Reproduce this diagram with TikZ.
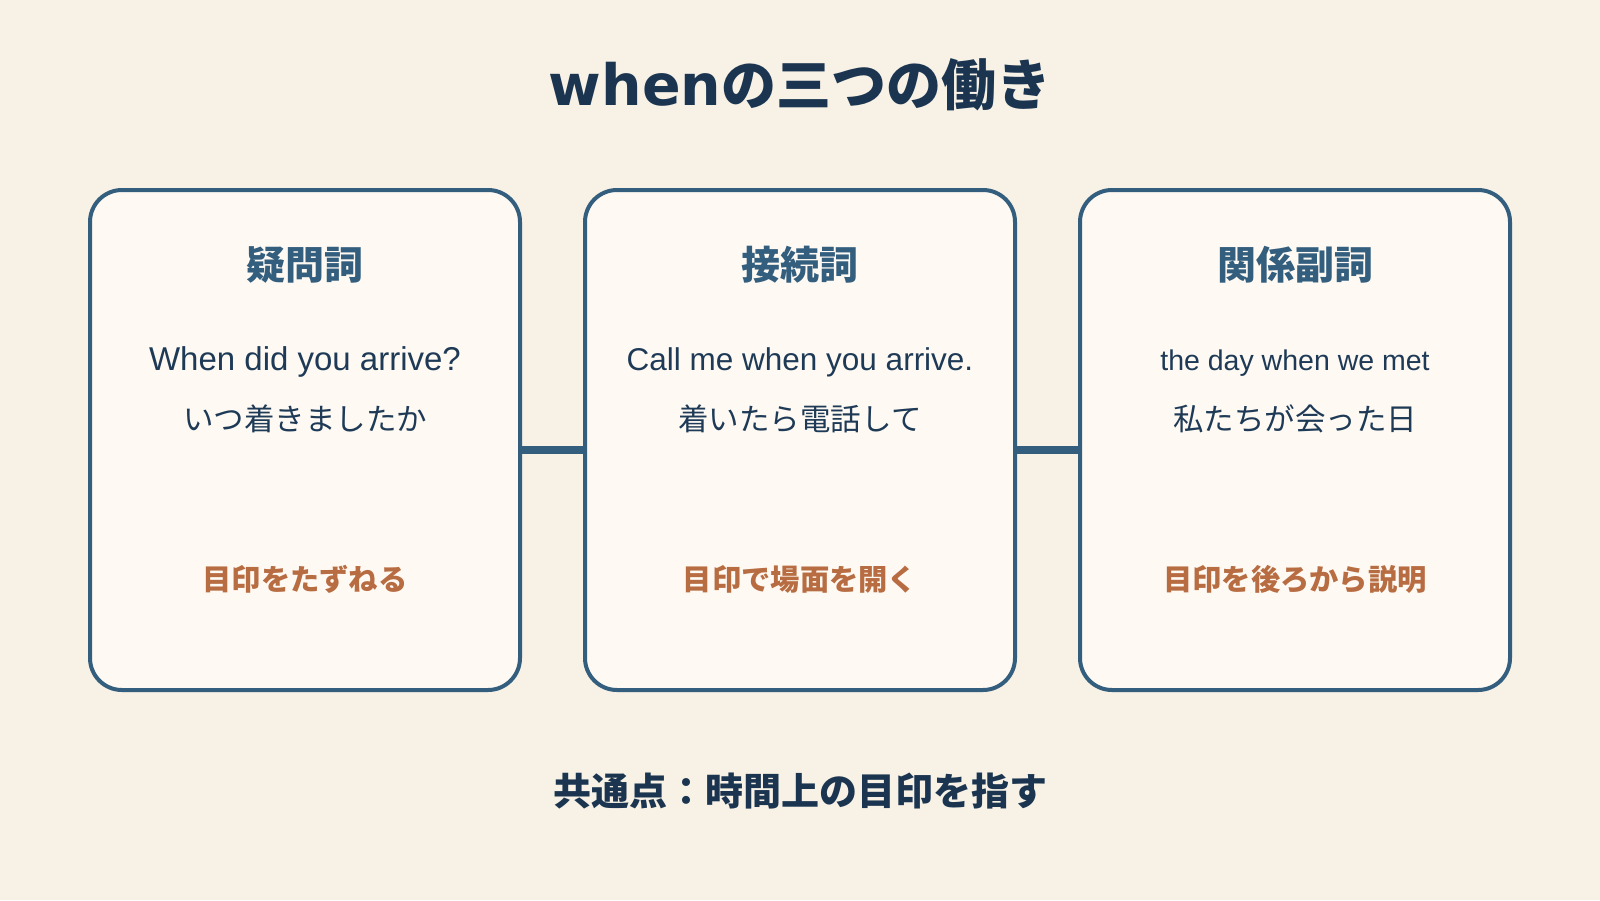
\documentclass[tikz,border=0pt]{standalone}
\usepackage{fontspec}
\setmainfont{Liberation Sans}
\newfontfamily\jp{Noto Sans CJK JP}
\newfontfamily\dv{DejaVu Sans}
\definecolor{bgc}{HTML}{F7F1E6}
\definecolor{cardc}{HTML}{FEFAF3}
\definecolor{borderc}{HTML}{335E7E}
\definecolor{textc}{HTML}{1E3A56}
\definecolor{titlec}{HTML}{1B3550}
\definecolor{orangec}{HTML}{B86C42}
\tikzset{
  card/.style={draw=borderc, line width=4pt, fill=cardc, rounded corners=32pt,
    minimum width=430pt, minimum height=500pt, inner sep=0pt},
  conn/.style={draw=borderc, line width=8pt},
  head/.style={anchor=base, text=borderc, font=\jp\bfseries\fontsize{39}{44}\selectfont, inner sep=0pt},
  eng/.style={anchor=base, text=textc, inner sep=0pt},
  jpline/.style={anchor=base, text=textc, font=\jp\fontsize{30.5}{36}\selectfont, inner sep=0pt},
  note/.style={anchor=base, text=orangec, font=\jp\bfseries\fontsize{29.3}{34}\selectfont, inner sep=0pt},
}
\begin{document}
\begin{tikzpicture}[x=1pt,y=-1pt]
\fill[bgc] (0,0) rectangle (1600,900);
\useasboundingbox (0,0) rectangle (1600,900);

\node[anchor=base, text=titlec, inner sep=0pt] (title) at (800,105)
  {{\dv\bfseries\fontsize{57}{60}\selectfont when}{\jp\bfseries\fontsize{55}{60}\selectfont の三つの働き}};

\node[card] (c1) at (305,440) {};
\node[card] (c2) at (800,440) {};
\node[card] (c3) at (1295,440) {};

\draw[conn] ([yshift=-10pt]c1.east) -- ([yshift=-10pt]c2.west);
\draw[conn] ([yshift=-10pt]c2.east) -- ([yshift=-10pt]c3.west);

\node[head] (h1) at (305,279) {疑問詞};
\node[head] (h2) at (800,279) {接続詞};
\node[head] (h3) at (1295,279) {関係副詞};

\node[eng, font=\fontsize{33}{38}\selectfont] (e1) at (305,370) {When did you arrive?};
\node[eng, font=\fontsize{31.5}{38}\selectfont] (e2) at (800,370) {Call me when you arrive.};
\node[eng, font=\fontsize{28.5}{34}\selectfont] (e3) at (1295,370) {the day when we met};

\node[jpline] (j1) at (305,430) {いつ着きましたか};
\node[jpline] (j2) at (800,430) {着いたら電話して};
\node[jpline] (j3) at (1295,430) {私たちが会った日};

\node[note] (n1) at (305,590) {目印をたずねる};
\node[note] (n2) at (800,590) {目印で場面を開く};
\node[note] (n3) at (1295,590) {目印を後ろから説明};

\node[anchor=base, text=titlec, font=\jp\bfseries\fontsize{38}{44}\selectfont, inner sep=0pt] (summary) at (800,805) {共通点：時間上の目印を指す};
\end{tikzpicture}
\end{document}
